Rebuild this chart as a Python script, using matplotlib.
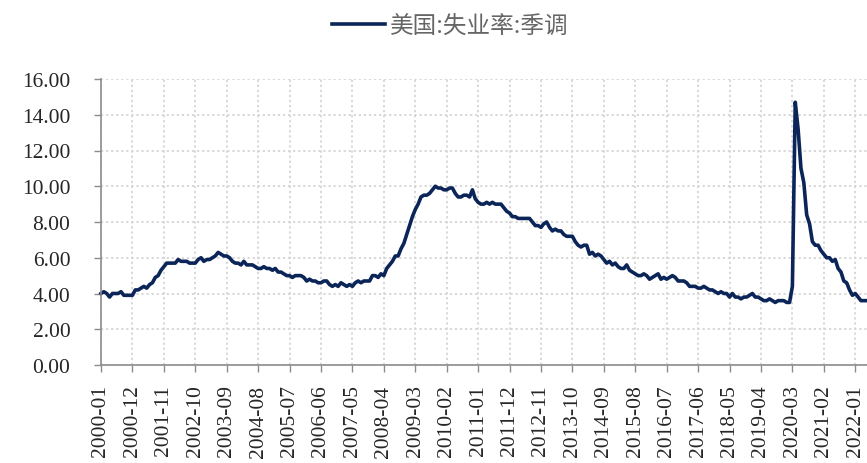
import matplotlib
matplotlib.use("Agg")
import matplotlib.pyplot as plt
import pandas as pd

# 美国失业率(季调), 月度, 2000-01 起
rate_2000 = [4.0, 4.1, 4.0, 3.8, 4.0, 4.0, 4.0, 4.1, 3.9, 3.9, 3.9, 3.9]
rate_2001 = [4.2, 4.2, 4.3, 4.4, 4.3, 4.5, 4.6, 4.9, 5.0, 5.3, 5.5, 5.7]
rate_2002 = [5.7, 5.7, 5.7, 5.9, 5.8, 5.8, 5.8, 5.7, 5.7, 5.7, 5.9, 6.0]
rate_2003 = [5.8, 5.9, 5.9, 6.0, 6.1, 6.3, 6.2, 6.1, 6.1, 6.0, 5.8, 5.7]
rate_2004 = [5.7, 5.6, 5.8, 5.6, 5.6, 5.6, 5.5, 5.4, 5.4, 5.5, 5.4, 5.4]
rate_2005 = [5.3, 5.4, 5.2, 5.2, 5.1, 5.0, 5.0, 4.9, 5.0, 5.0, 5.0, 4.9]
rate_2006 = [4.7, 4.8, 4.7, 4.7, 4.6, 4.6, 4.7, 4.7, 4.5, 4.4, 4.5, 4.4]
rate_2007 = [4.6, 4.5, 4.4, 4.5, 4.4, 4.6, 4.7, 4.6, 4.7, 4.7, 4.7, 5.0]
rate_2008 = [5.0, 4.9, 5.1, 5.0, 5.4, 5.6, 5.8, 6.1, 6.1, 6.5, 6.8, 7.3]
rate_2009 = [7.8, 8.3, 8.7, 9.0, 9.4, 9.5, 9.5, 9.6, 9.8, 10.0, 9.9, 9.9]
rate_2010 = [9.8, 9.8, 9.9, 9.9, 9.6, 9.4, 9.4, 9.5, 9.5, 9.4, 9.8, 9.3]
rate_2011 = [9.1, 9.0, 9.0, 9.1, 9.0, 9.1, 9.0, 9.0, 9.0, 8.8, 8.6, 8.5]
rate_2012 = [8.3, 8.3, 8.2, 8.2, 8.2, 8.2, 8.2, 8.0, 7.8, 7.8, 7.7, 7.9]
rate_2013 = [8.0, 7.7, 7.5, 7.6, 7.5, 7.5, 7.3, 7.2, 7.2, 7.2, 6.9, 6.7]
rate_2014 = [6.6, 6.7, 6.7, 6.2, 6.3, 6.1, 6.2, 6.1, 5.9, 5.7, 5.8, 5.6]
rate_2015 = [5.7, 5.5, 5.4, 5.4, 5.6, 5.3, 5.2, 5.1, 5.0, 5.0, 5.1, 5.0]
rate_2016 = [4.8, 4.9, 5.0, 5.1, 4.8, 4.9, 4.8, 4.9, 5.0, 4.9, 4.7, 4.7]
rate_2017 = [4.7, 4.6, 4.4, 4.4, 4.4, 4.3, 4.3, 4.4, 4.3, 4.2, 4.2, 4.1]
rate_2018 = [4.0, 4.1, 4.0, 4.0, 3.8, 4.0, 3.8, 3.8, 3.7, 3.8, 3.8, 3.9]
rate_2019 = [4.0, 3.8, 3.8, 3.7, 3.6, 3.6, 3.7, 3.6, 3.5, 3.6, 3.6, 3.6]
rate_2020 = [3.5, 3.5, 4.4, 14.7, 13.2, 11.0, 10.2, 8.4, 7.9, 6.9, 6.7, 6.7]
rate_2021 = [6.4, 6.2, 6.0, 6.0, 5.8, 5.9, 5.4, 5.2, 4.7, 4.6, 4.2, 3.9]
rate_2022 = [4.0, 3.8, 3.6, 3.6, 3.6, 3.6]

rate = (rate_2000 + rate_2001 + rate_2002 + rate_2003 + rate_2004 + rate_2005
        + rate_2006 + rate_2007 + rate_2008 + rate_2009 + rate_2010 + rate_2011
        + rate_2012 + rate_2013 + rate_2014 + rate_2015 + rate_2016 + rate_2017
        + rate_2018 + rate_2019 + rate_2020 + rate_2021 + rate_2022)
months = pd.period_range("2000-01", periods=len(rate), freq="M").strftime("%Y-%m").tolist()
tick_step = 11
y_ticks = [0, 2, 4, 6, 8, 10, 12, 14, 16]

navy = "#0b2559"
grey_axis = "#8c8c8c"

fig = plt.figure(figsize=(8.67, 4.64), dpi=100)
px = 1 / 867
n = len(rate)
ax = fig.add_axes([101 * px, 1 - 366 / 464, (n - 1) * 2.857 * px, (366 - 80) / 464])

x = list(range(n))
line, = ax.plot(x, rate, color=navy, lw=2.6, solid_joinstyle="round", label="美国:失业率:季调", clip_on=False)

ax.set_xlim(0, n - 1)
ax.set_ylim(0, 16)
ax.set_yticks(y_ticks)
ax.set_yticklabels(["%.2f" % v for v in y_ticks])
tick_pos = x[::tick_step]
ax.set_xticks(tick_pos)
ax.set_xticklabels([months[i] for i in tick_pos], rotation=90)

for lab in ax.get_xticklabels() + ax.get_yticklabels():
    lab.set_fontfamily("Liberation Serif")
    lab.set_fontsize(15.5)
    lab.set_color("#262626")

ax.tick_params(axis="y", length=5, width=1, color=grey_axis, pad=17)
ax.tick_params(axis="x", length=5, width=1, color=grey_axis, pad=9)

for s in ["top", "right"]:
    ax.spines[s].set_visible(False)
for s in ["left", "bottom"]:
    ax.spines[s].set_color(grey_axis)
    ax.spines[s].set_linewidth(1.2)

ax.grid(True, color="#d4d4d4", linestyle=(0, (1.2, 1.6)), linewidth=1.3)
ax.set_axisbelow(True)

leg = fig.legend(handles=[line], loc="center", bbox_to_anchor=(0.519, 0.942), frameon=False,
                 prop={"family": ["Noto Sans CJK SC", "DejaVu Sans"], "size": 17, "weight": "light"},
                 handlelength=2.25, handletextpad=0.2)
for t in leg.get_texts():
    t.set_color("#666666")

fig.savefig("out.png", dpi=100)
